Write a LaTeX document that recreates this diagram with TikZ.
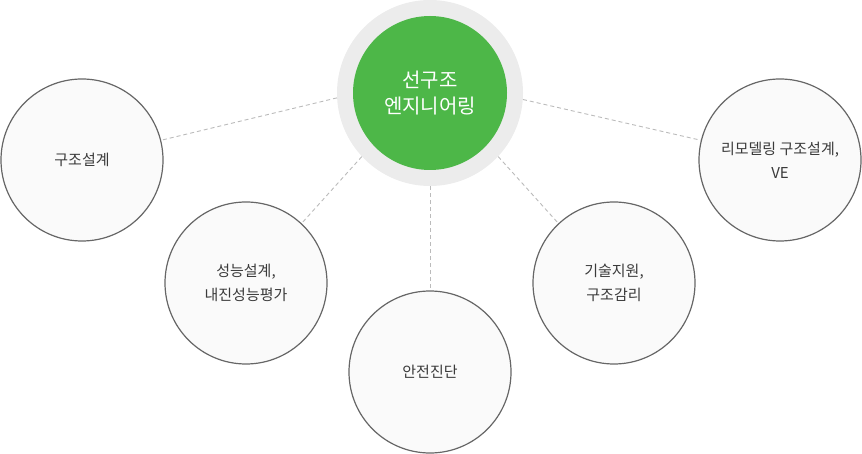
\documentclass[tikz,border=0pt]{standalone}
\usepackage{fontspec}
\setmainfont{Noto Sans CJK KR}
\definecolor{ringgrey}{HTML}{ECECEC}
\definecolor{hubgreen}{HTML}{4DB748}
\definecolor{satfill}{HTML}{FAFAFA}
\definecolor{satline}{HTML}{666666}
\definecolor{linkgrey}{HTML}{BBBBBB}
\definecolor{txtgrey}{HTML}{3A3A3A}
\tikzset{
  sat/.style={circle, draw=satline, line width=1.2pt, fill=satfill, minimum size=162pt, inner sep=0pt,
    align=center, text=txtgrey, font=\fontsize{15pt}{24pt}\selectfont},
  link/.style={draw=linkgrey, line width=0.9pt, dash pattern=on 4pt off 3pt},
}
\begin{document}
\begin{tikzpicture}[x=1pt,y=-1pt]
\useasboundingbox (0,0) rectangle (862,454);
\node[circle, fill=ringgrey, minimum size=186pt, inner sep=0pt] (ring) at (430,93) {};
\node[circle, fill=hubgreen, minimum size=154pt, inner sep=0pt, align=center, text=white,
  font=\fontsize{20pt}{26pt}\selectfont] (hub) at (430,93) {선구조\\엔지니어링};
\node[sat] (s1) at (82,160) {구조설계};
\node[sat] (s2) at (246,283) {성능설계,\\내진성능평가};
\node[sat] (s3) at (430,372) {안전진단};
\node[sat] (s4) at (614,283) {기술지원,\\구조감리};
\node[sat] (s5) at (780,160) {리모델링 구조설계,\\VE};
\draw[link] (ring.183) -- (s1.14);
\draw[link] (ring.223) -- (s2.47);
\draw[link] (ring.270) -- (s3.90);
\draw[link] (ring.317) -- (s4.133);
\draw[link] (ring.356) -- (s5.166);
\end{tikzpicture}
\end{document}
